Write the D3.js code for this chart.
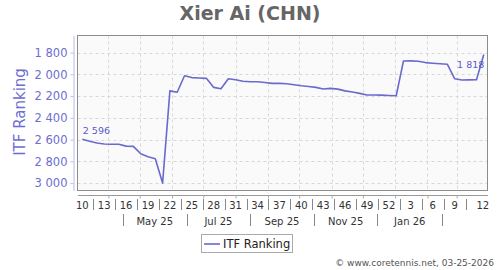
<!DOCTYPE html>
<html><head><meta charset="utf-8">
<script src="https://cdn.jsdelivr.net/npm/d3@7"></script>
<style>html,body{margin:0;padding:0;background:#fff;} svg{display:block;font-family:"DejaVu Sans",sans-serif;}</style>
</head><body><svg id="c" width="500" height="270"></svg>
<script>
const title = "Xier Ai (CHN)";
const seriesName = "ITF Ranking";
const footer = "\u00a9 www.coretennis.net, 03-25-2026";
const weeks = [
 "2025-10","2025-11","2025-12","2025-13","2025-14","2025-15","2025-16","2025-17","2025-18","2025-19",
 "2025-20","2025-21","2025-22","2025-23","2025-24","2025-25","2025-26","2025-27","2025-28","2025-29",
 "2025-30","2025-31","2025-32","2025-33","2025-34","2025-35","2025-36","2025-37","2025-38","2025-39",
 "2025-40","2025-41","2025-42","2025-43","2025-44","2025-45","2025-46","2025-47","2025-48","2025-49",
 "2025-50","2025-51","2025-52","2026-01","2026-02","2026-03","2026-04","2026-05","2026-06","2026-07",
 "2026-08","2026-09","2026-10","2026-11","2026-12","2026-13"];
const ranks = [
 2596,2615,2631,2641,2643,2643,2660,2662,2730,2757,
 2776,3000,2152,2165,2013,2030,2034,2037,2120,2133,
 2041,2050,2063,2068,2068,2075,2083,2083,2087,2096,
 2105,2112,2120,2135,2129,2136,2152,2163,2175,2190,
 2190,2191,2194,2197,1877,1876,1880,1892,1898,1903,
 1907,2040,2052,2051,2050,1818];
const yTicks = [1800,2000,2200,2400,2600,2800,3000];
const yDomain = [1643, 3068];

function weekDate(s){
  const [yr,w] = s.split("-").map(Number);
  const mon1 = d3.timeMonday.floor(new Date(yr,0,4));
  return d3.timeDay.offset(mon1,(w-1)*7+4);
}
const dates = weeks.map(weekDate);
const data = dates.map((d,i)=>({date:d, week:+weeks[i].split("-")[1], value:ranks[i]}));
const first = data[0], last = data[data.length-1];

const P = {l:77.5, r:487.5, t:35.5, b:190.5};
const svg = d3.select("#c");
const x = d3.scaleTime().domain([first.date, last.date]).range([82.3, 483.8]);
const y = d3.scaleLinear().domain(yDomain).range([P.t, P.b]);
const fmt = v => d3.format(",")(v).replace(/,/g," ");
const purple = "#6a6acd";
const snap = v => Math.round(v)+0.5;

// title
svg.append("text").attr("x",250).attr("y",20).attr("text-anchor","middle")
  .attr("font-size",19).attr("font-weight","bold").attr("fill","#666").text(title);

// plot background
svg.append("rect").attr("x",P.l).attr("y",P.t).attr("width",P.r-P.l).attr("height",P.b-P.t)
  .attr("fill","#fafafa");

// grid
const months = d3.timeMonth.range(x.invert(P.l), x.invert(P.r));
svg.append("g").selectAll("line").data(months).join("line")
  .attr("x1",d=>snap(x(d))).attr("x2",d=>snap(x(d))).attr("y1",P.t).attr("y2",P.b)
  .attr("stroke","#d8d8d8").attr("stroke-dasharray","3,3");
svg.append("g").selectAll("line").data(yTicks).join("line")
  .attr("x1",P.l).attr("x2",P.r).attr("y1",d=>snap(y(d))).attr("y2",d=>snap(y(d)))
  .attr("stroke","#d8d8d8").attr("stroke-dasharray","3,3");

svg.append("rect").attr("x",P.l).attr("y",P.t).attr("width",P.r-P.l).attr("height",P.b-P.t)
  .attr("fill","none").attr("stroke","#8c8c8c");

// y axis
const yAxis = svg.append("g").attr("transform","translate(73.5,0)")
  .call(d3.axisLeft(y).tickValues(yTicks).tickFormat(fmt).tickSize(3).tickSizeOuter(0).tickPadding(3));
yAxis.select(".domain").attr("stroke","#b9b9e6");
yAxis.selectAll(".tick line").attr("stroke","#b9b9e6");
yAxis.selectAll(".tick text").attr("fill","#6d6dd2").attr("font-size",11.5).attr("font-family","DejaVu Sans");

svg.append("text").attr("transform","translate(25,112) rotate(-90)").attr("text-anchor","middle")
  .attr("font-size",15).attr("fill","#6d6dd2").text(seriesName);

// x axis
svg.append("line").attr("x1",78).attr("x2",488).attr("y1",195.5).attr("y2",195.5).attr("stroke","#999");
const xAxis = svg.append("g").attr("transform","translate(0,195.5)")
  .call(d3.axisBottom(x).tickValues(months).tickFormat("").tickSize(3).tickSizeOuter(0));
xAxis.select(".domain").remove();
xAxis.selectAll(".tick line").attr("stroke","#aaa");

// week labels
const labelIdx = d3.range(0, data.length, 3);
const seps = labelIdx.slice(0,-1).map(i => (x(data[i+1].date)+x(data[i+2].date))/2);
const bounds = [71.5, ...seps, 500];
svg.append("g").selectAll("line").data(seps).join("line")
  .attr("x1",d=>snap(d)).attr("x2",d=>snap(d)).attr("y1",199).attr("y2",210)
  .attr("stroke","#888");
svg.append("g").selectAll("text").data(labelIdx).join("text")
  .attr("x",(d,k)=>(bounds[k]+bounds[k+1])/2).attr("y",208.5).attr("text-anchor","middle")
  .attr("font-size",10).attr("fill","#333").text(d=>data[d].week);

// month labels
const mids = d3.timeMonth.range(d3.timeMonth.ceil(first.date), last.date).map(m=>d3.timeDay.offset(m,14));
const mSeps = mids.filter(m=>m.getMonth()%2===1 && m<=last.date);
const mLabs = mids.filter(m=>m.getMonth()%2===0 && d3.timeMonth.offset(m,1)<=last.date);
svg.append("g").selectAll("line").data(mSeps).join("line")
  .attr("x1",d=>snap(x(d))).attr("x2",d=>snap(x(d))).attr("y1",214).attr("y2",226)
  .attr("stroke","#888");
svg.append("g").selectAll("text").data(mLabs).join("text")
  .attr("x",d=>(x(d3.timeMonth.offset(d,-1))+x(d3.timeMonth.offset(d,1)))/2).attr("y",224.5)
  .attr("text-anchor","middle").attr("font-size",10).attr("fill","#333")
  .text(d=>d3.timeFormat("%b %y")(d));

// line
svg.append("path").datum(data)
  .attr("d",d3.line().x(d=>x(d.date)).y(d=>y(d.value)))
  .attr("fill","none").attr("stroke",purple).attr("stroke-width",1.6).attr("stroke-linejoin","round");

// annotations
svg.append("text").attr("x",x(first.date)+0.5).attr("y",y(first.value)-5.5)
  .attr("font-size",9.5).attr("fill","#5b5bc4").text(fmt(first.value));
svg.append("text").attr("x",x(last.date)+0.5).attr("y",y(last.value)+13)
  .attr("text-anchor","end").attr("font-size",9.5).attr("fill","#5b5bc4").text(fmt(last.value));

// legend
svg.append("rect").attr("x",201.5).attr("y",234.5).attr("width",91).attr("height",18)
  .attr("fill","#fff").attr("stroke","#aaa");
svg.append("line").attr("x1",204).attr("x2",220).attr("y1",244).attr("y2",244)
  .attr("stroke",purple).attr("stroke-width",1.6);
svg.append("text").attr("x",223).attr("y",248).attr("font-size",11.5).attr("fill","#222").text(seriesName);

// footer
svg.append("text").attr("x",494).attr("y",266).attr("text-anchor","end")
  .attr("font-size",9).attr("fill","#555").text(footer);
</script></body></html>
